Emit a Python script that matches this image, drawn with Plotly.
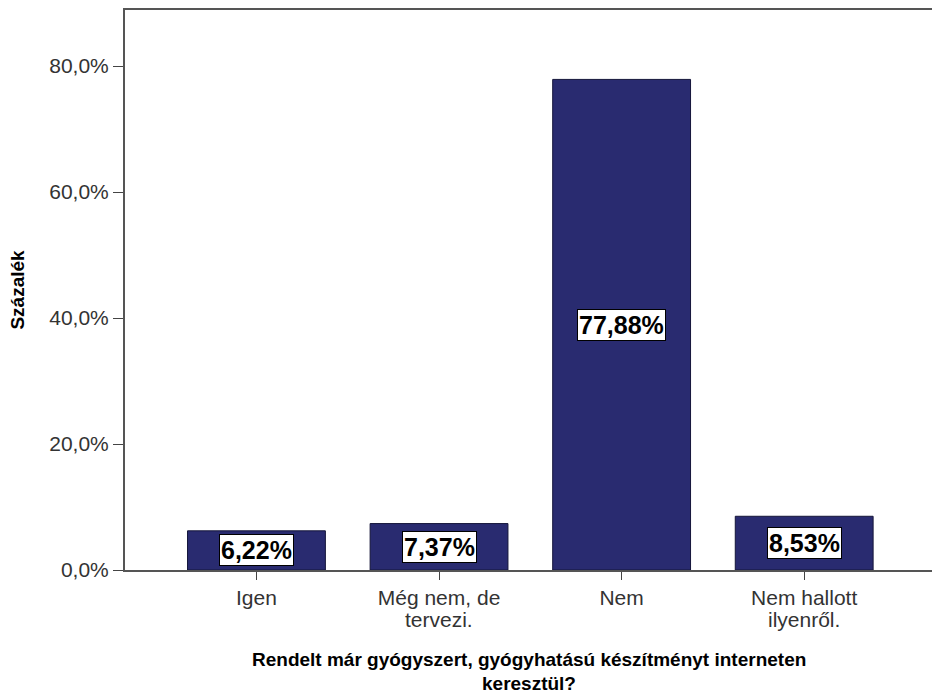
import plotly.graph_objects as go

categories = ["Igen", "Még nem, de", "Nem", "Nem hallott"]
categories_line2 = ["", "tervezi.", "", "ilyenről."]
values = [6.22, 7.37, 77.88, 8.53]
labels = ["6,22%", "7,37%", "77,88%", "8,53%"]
tick_vals = [0, 20, 40, 60, 80]
tick_text = ["0,0%", "20,0%", "40,0%", "60,0%", "80,0%"]
x_title = ["Rendelt már gyógyszert, gyógyhatású készítményt interneten", "keresztül?"]

font = "Liberation Sans, Arial, sans-serif"

fig = go.Figure()
fig.add_trace(go.Bar(
    x=list(range(len(categories))), y=values,
    marker=dict(color="#292b70", line=dict(color="#15163a", width=1)),
    hoverinfo="none",
))

# white value boxes centred on each bar
for i, (v, t) in enumerate(zip(values, labels)):
    fig.add_annotation(x=i, y=v / 2, text="<b>" + t + "</b>", showarrow=False,
                       font=dict(family=font, size=25, color="black"),
                       bgcolor="white", bordercolor="black", borderwidth=1, borderpad=1)

# second line of category labels (tighter line spacing than <br>)
for i, t in enumerate(categories_line2):
    if t:
        fig.add_annotation(x=i, xref="x", y=0, yref="paper", text=t, showarrow=False,
                           yanchor="middle", yshift=-49,
                           font=dict(family=font, size=21, color="#333"))

# axis title, two tight lines
for k, t in enumerate(x_title):
    fig.add_annotation(x=0.5, xref="paper", y=0, yref="paper", text="<b>" + t + "</b>",
                       showarrow=False, yanchor="middle", yshift=-89 - 24 * k,
                       font=dict(family=font, size=19, color="black"))

fig.update_layout(
    width=932, height=694,
    margin=dict(l=125, r=0, t=10, b=124),
    plot_bgcolor="white", paper_bgcolor="white",
    showlegend=False, bargap=0.245,
    font=dict(family=font, color="#333333"),
)
fig.update_xaxes(
    range=[-0.72, 3.7],
    tickmode="array", tickvals=list(range(len(categories))), ticktext=categories,
    ticks="outside", ticklen=8, tickcolor="#444", tickwidth=1,
    showline=True, linecolor="#555", linewidth=2, mirror=True,
    showgrid=False, zeroline=False,
    tickfont=dict(size=21, color="#333"),
)
fig.update_yaxes(
    range=[0, 88.9],
    tickmode="array", tickvals=tick_vals, ticktext=tick_text,
    ticks="outside", ticklen=10, tickcolor="#444", tickwidth=1,
    showline=True, linecolor="#555", linewidth=2,
    showgrid=False, zeroline=False,
    tickfont=dict(size=21, color="#333"),
    title=dict(text="<b>Százalék</b>", font=dict(size=19, color="black"), standoff=20),
)

fig.write_html("out.html", config={"displayModeBar": False},
               post_script="document.body.style.margin='0';")
